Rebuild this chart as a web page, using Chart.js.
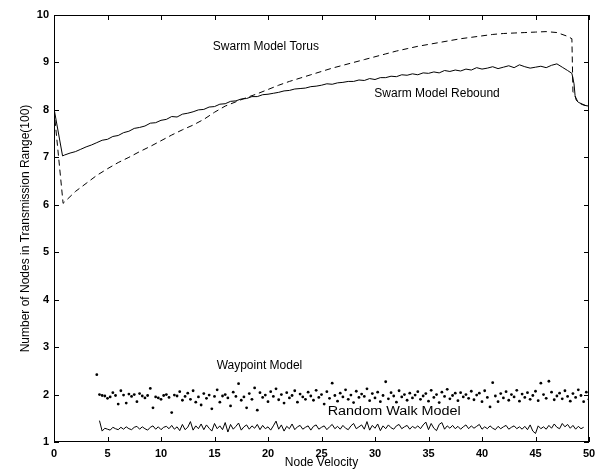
<!DOCTYPE html>
<html>
<head>
<meta charset="utf-8">
<script src="https://cdn.jsdelivr.net/npm/chart.js@4.4.1/dist/chart.umd.min.js"></script>
<style>
  body { margin: 0; background: #fff; }
  #wrap { width: 601px; height: 472px; }
</style>
</head>
<body>
<div id="wrap"><canvas id="velocity_chart" width="601" height="472"></canvas></div>
<script>
// axis ticks
const x_ticks = [0, 5, 10, 15, 20, 25, 30, 35, 40, 45, 50];
const y_ticks = [1, 2, 3, 4, 5, 6, 7, 8, 9, 10];

function grid(start, step, n) {
    var out = [];
    for (var i = 0; i < n; i++) out.push(+(start + i * step).toFixed(2));
    return out;
}

// Swarm Model Rebound (solid)
const rebound_x = [0, 0.8].concat(grid(1, 0.5, 95), [48.4, 48.6, 48.7, 48.8, 49, 49.4, 49.7, 50]);
const rebound_y = [8.03, 7.03,
    7.05, 7.09, 7.12, 7.17, 7.22, 7.26, 7.31, 7.36, 7.38, 7.44,
    7.46, 7.52, 7.55, 7.61, 7.63, 7.66, 7.72, 7.73, 7.78, 7.80,
    7.86, 7.85, 7.91, 7.93, 7.96, 8.00, 8.01, 8.06, 8.07, 8.12,
    8.13, 8.18, 8.19, 8.23, 8.24, 8.28, 8.28, 8.32, 8.33, 8.35,
    8.37, 8.40, 8.41, 8.44, 8.45, 8.46, 8.49, 8.50, 8.52, 8.55,
    8.54, 8.57, 8.58, 8.60, 8.60, 8.63, 8.62, 8.66, 8.64, 8.68,
    8.68, 8.71, 8.70, 8.74, 8.73, 8.76, 8.74, 8.78, 8.77, 8.80,
    8.78, 8.83, 8.81, 8.84, 8.82, 8.86, 8.84, 8.89, 8.86, 8.88,
    8.91, 8.87, 8.90, 8.93, 8.89, 8.95, 8.91, 8.88, 8.90, 8.92,
    8.89, 8.94, 8.97, 8.90, 8.83,
    8.77, 8.55, 8.30, 8.21, 8.16, 8.12, 8.09, 8.08];

// Swarm Model Torus (dashed)
const torus_x = [0, 0.85].concat(grid(2, 1, 47), [48.4, 48.5, 49, 49.5, 50]);
const torus_y = [8.0, 6.03,
    6.28, 6.45, 6.62, 6.76, 6.89, 7.00, 7.12, 7.23, 7.35, 7.47,
    7.58, 7.68, 7.80, 7.95, 8.08, 8.17, 8.26, 8.34, 8.43, 8.52,
    8.60, 8.67, 8.74, 8.81, 8.88, 8.94, 9.00, 9.06, 9.12, 9.18,
    9.24, 9.29, 9.34, 9.38, 9.42, 9.46, 9.50, 9.53, 9.56, 9.59,
    9.61, 9.62, 9.63, 9.64, 9.65, 9.63, 9.55,
    9.50, 8.38, 8.15, 8.10, 8.08];

// Waypoint Model (dots), x from 4 to 50 every 0.25
const waypoint_x = grid(4, 0.25, 185);
const waypoint_y = [
    2.42, 2.00, 1.98, 1.97, 1.92, 1.95, 2.04, 1.98, 1.80, 2.08, 1.99, 1.82, 2.01, 1.96, 2.00, 1.85, 2.02, 1.97, 1.93, 1.98,
    2.13, 1.72, 1.95, 1.93, 1.90, 1.98, 2.00, 1.94, 1.62, 1.99, 1.97, 2.06, 1.88, 1.96, 2.03, 1.90, 2.08, 1.84, 1.95, 1.78,
    2.02, 1.92, 1.99, 1.70, 1.96, 2.10, 1.84, 1.97, 2.00, 1.93, 1.76, 2.05, 1.96, 2.23, 1.88, 1.95, 1.72, 2.02, 1.90, 2.14,
    1.67, 2.04, 1.94, 1.99, 1.85, 2.06, 1.96, 2.12, 1.89, 2.00, 1.82, 2.04, 1.93, 1.98, 2.08, 1.84, 2.01, 1.95, 1.90, 2.05,
    1.97, 1.88, 2.09, 1.94, 2.00, 1.80, 2.06, 1.92, 2.24, 1.98, 1.86, 2.03, 1.95, 2.10, 1.90, 1.99, 1.83, 2.07, 1.94, 2.01,
    1.96, 2.12, 1.87, 2.02, 1.93, 2.05, 1.85, 1.98, 2.27, 1.91, 2.04, 1.97, 1.84, 2.08, 1.95, 2.00, 1.88, 2.03, 1.93, 1.99,
    2.06, 1.90, 1.97, 2.02, 1.86, 2.09, 1.94, 2.00, 1.83, 2.05, 1.96, 2.11, 1.91, 1.98, 2.03, 1.87, 2.04, 1.95, 2.00, 1.92,
    2.07, 1.89, 1.99, 2.03, 1.85, 2.08, 1.94, 1.74, 2.25, 1.97, 1.85, 2.02, 1.93, 2.06, 1.88, 2.00, 1.95, 2.09, 1.86, 2.01,
    1.94, 2.04, 1.90, 1.98, 2.07, 1.87, 2.24, 2.00, 1.92, 2.28, 2.05, 1.89, 1.97, 2.03, 1.91, 2.08, 1.96, 1.86, 2.02, 1.94,
    2.10, 1.98, 1.85, 2.05, 1.90];

// Random Walk Model (solid), x from 4.25 to 49.5 every 0.25
const randomwalk_x = grid(4.25, 0.25, 182);
const randomwalk_y = [
    1.45, 1.23, 1.29, 1.27, 1.25, 1.31, 1.28, 1.26, 1.31, 1.27, 1.32, 1.28, 1.26, 1.31, 1.33, 1.27, 1.32, 1.28, 1.25, 1.31,
    1.34, 1.27, 1.32, 1.26, 1.31, 1.33, 1.28, 1.35, 1.27, 1.32, 1.24, 1.37, 1.26, 1.31, 1.43, 1.25, 1.34, 1.28, 1.38, 1.26,
    1.36, 1.29, 1.23, 1.39, 1.28, 1.34, 1.26, 1.41, 1.21, 1.37, 1.27, 1.33, 1.40, 1.25, 1.32, 1.36, 1.27, 1.34, 1.29, 1.37,
    1.26, 1.35, 1.28, 1.32, 1.25, 1.34, 1.44, 1.27, 1.36, 1.23, 1.33, 1.28, 1.38, 1.26, 1.32, 1.35, 1.27, 1.31, 1.34, 1.25,
    1.33, 1.36, 1.27, 1.31, 1.34, 1.26, 1.32, 1.37, 1.28, 1.33, 1.27, 1.35, 1.29, 1.26, 1.34, 1.39, 1.28, 1.32, 1.36, 1.27,
    1.43, 1.25, 1.35, 1.29, 1.38, 1.24, 1.34, 1.28, 1.36, 1.30, 1.27, 1.34, 1.37, 1.28, 1.32, 1.35, 1.27, 1.33, 1.29, 1.34,
    1.28, 1.36, 1.42, 1.26, 1.39, 1.29, 1.24, 1.37, 1.41, 1.27, 1.34, 1.29, 1.35, 1.28, 1.33, 1.27, 1.32, 1.36, 1.28, 1.34,
    1.29, 1.33, 1.37, 1.27, 1.32, 1.28, 1.34, 1.29, 1.26, 1.33, 1.28, 1.32, 1.35, 1.27, 1.31, 1.34, 1.28, 1.32, 1.27, 1.33,
    1.26, 1.36, 1.23, 1.18, 1.34, 1.28, 1.32, 1.27, 1.35, 1.29, 1.38, 1.31, 1.28, 1.39, 1.32, 1.37, 1.29, 1.35, 1.27, 1.33,
    1.28, 1.31];

// text labels placed in data coordinates (sx = horizontal stretch seen in the scan)
const labels = [
    { text: 'Swarm Model Torus', x: 19.8, y: 9.33, sx: 1 },
    { text: 'Swarm Model Rebound', x: 35.8, y: 8.35, sx: 1 },
    { text: 'Waypoint Model', x: 19.2, y: 2.60, sx: 1 },
    { text: 'Random Walk Model', x: 31.8, y: 1.63, sx: 1.2 }
];

function points(xs, ys) {
    var out = [];
    for (var i = 0; i < ys.length && i < xs.length; i++) out.push({ x: xs[i], y: ys[i] });
    return out;
}

const FONT = 'Liberation Sans, Arial, Helvetica, sans-serif';

// box, inward ticks and curve labels, like the matlab figure
const frame_plugin = {
    id: 'frame',
    afterDatasetsDraw(chart) {
        const ctx = chart.ctx;
        const a = chart.chartArea;
        const xs = chart.scales.x;
        const ys = chart.scales.y;
        const len = 5;
        ctx.save();
        ctx.strokeStyle = '#000';
        ctx.lineWidth = 1;
        ctx.strokeRect(a.left + 0.5, a.top + 0.5, a.right - a.left - 1, a.bottom - a.top - 1);
        ctx.beginPath();
        x_ticks.forEach(function (v) {
            var px = Math.round(xs.getPixelForValue(v)) + 0.5;
            ctx.moveTo(px, a.bottom); ctx.lineTo(px, a.bottom - len);
            ctx.moveTo(px, a.top); ctx.lineTo(px, a.top + len);
        });
        y_ticks.forEach(function (v) {
            var py = Math.round(ys.getPixelForValue(v)) + 0.5;
            ctx.moveTo(a.left, py); ctx.lineTo(a.left + len, py);
            ctx.moveTo(a.right, py); ctx.lineTo(a.right - len, py);
        });
        ctx.stroke();

        ctx.fillStyle = '#000';
        ctx.font = '12px ' + FONT;
        ctx.textAlign = 'center';
        ctx.textBaseline = 'middle';
        labels.forEach(function (l) {
            ctx.save();
            ctx.translate(xs.getPixelForValue(l.x), ys.getPixelForValue(l.y));
            ctx.scale(l.sx, 1);
            ctx.fillText(l.text, 0, 0);
            ctx.restore();
        });
        ctx.restore();
    }
};

function DrawVelocityChart() {
    var datasets = [
        {
            label: 'Swarm Model Torus',
            data: points(torus_x, torus_y),
            borderColor: '#000',
            borderWidth: 1,
            borderDash: [6, 4],
            pointRadius: 0,
            tension: 0
        },
        {
            label: 'Swarm Model Rebound',
            data: points(rebound_x, rebound_y),
            borderColor: '#000',
            borderWidth: 1,
            pointRadius: 0,
            tension: 0
        },
        {
            label: 'Waypoint Model',
            data: points(waypoint_x, waypoint_y),
            showLine: false,
            pointRadius: 1.4,
            pointBackgroundColor: '#000',
            pointBorderWidth: 0,
            borderColor: '#000'
        },
        {
            label: 'Random Walk Model',
            data: points(randomwalk_x, randomwalk_y),
            borderColor: '#000',
            borderWidth: 1,
            pointRadius: 0,
            tension: 0
        }
    ];

    var canvas = document.getElementById('velocity_chart');
    var chart = Chart.getChart(canvas);
    if (chart) {
        chart.destroy();
    }

    chart = new Chart(canvas, {
        type: 'line',
        data: { datasets: datasets },
        options: {
            responsive: false,
            animation: false,
            layout: { padding: { top: 15, right: 12, left: 0, bottom: 0 } },
            plugins: { legend: { display: false }, tooltip: { enabled: false } },
            scales: {
                x: {
                    type: 'linear',
                    min: 0,
                    max: 50,
                    afterFit: function (s) { s.height = 30; },
                    afterBuildTicks: function (s) { s.ticks = x_ticks.map(function (v) { return { value: v }; }); },
                    grid: { display: false, drawTicks: false },
                    border: { display: false },
                    ticks: { color: '#000', padding: 5, maxRotation: 0, autoSkip: false, font: { family: FONT, size: 11, weight: 'bold' } },
                    title: { display: true, text: 'Node Velocity', color: '#000', padding: { top: 0, bottom: 2 }, font: { family: FONT, size: 12 } }
                },
                y: {
                    type: 'linear',
                    min: 1,
                    max: 10,
                    afterFit: function (s) { s.width = 54; },
                    afterBuildTicks: function (s) { s.ticks = y_ticks.map(function (v) { return { value: v }; }); },
                    grid: { display: false, drawTicks: false },
                    border: { display: false },
                    ticks: { color: '#000', padding: 5, autoSkip: false, font: { family: FONT, size: 11, weight: 'bold' } },
                    title: { display: true, text: 'Number of Nodes in Transmission Range(100)', color: '#000', padding: { top: 18, bottom: 0 }, font: { family: FONT, size: 12 } }
                }
            }
        },
        plugins: [frame_plugin]
    });
}

DrawVelocityChart();
</script>
</body>
</html>
